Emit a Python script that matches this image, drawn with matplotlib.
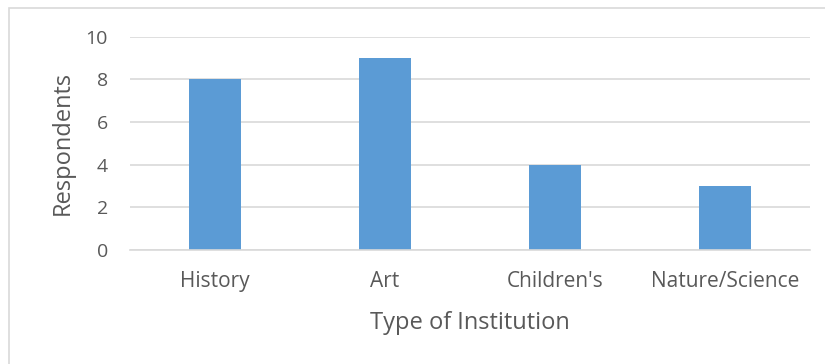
import matplotlib
matplotlib.use('Agg')
import matplotlib.pyplot as plt
from matplotlib.patches import Rectangle

categories = ['History', 'Art', "Children's", 'Nature/Science']
respondents = [8, 9, 4, 3]
yticks = [0, 2, 4, 6, 8, 10]

BAR = '#5B9BD5'
GRID = '#D9D9D9'
TEXT = '#595959'

plt.rcParams['font.family'] = ['Open Sans', 'DejaVu Sans']

fig = plt.figure(figsize=(8.25, 3.64), dpi=100)
# chart frame
fig.patches.append(Rectangle((9 / 825, -0.1), 1.0, 1.1 - 8 / 364, transform=fig.transFigure,
                             fill=False, edgecolor=GRID, linewidth=1.2))

ax = fig.add_axes([130 / 825, 1 - 250 / 364, 680 / 825, (250 - 36.7) / 364])
x = range(len(categories))
ax.bar(x, respondents, width=0.31, color=BAR, zorder=3)
ax.set_xlim(-0.5, len(categories) - 0.5)
ax.set_ylim(0, 10)
ax.set_yticks(yticks)
ax.set_xticks(list(x))
ax.set_xticklabels(categories)
ax.yaxis.grid(True, color=GRID, linewidth=1.2, zorder=0)
for s in ['top', 'right', 'left']:
    ax.spines[s].set_visible(False)
ax.spines['bottom'].set_color(GRID)
ax.spines['bottom'].set_linewidth(1.2)
ax.spines['bottom'].set_zorder(4)
ax.tick_params(length=0, colors=TEXT)
ax.tick_params(axis='x', pad=15, labelsize=15)
ax.tick_params(axis='y', pad=16, labelsize=14)
ax.set_ylabel('Respondents', fontsize=17, color=TEXT, labelpad=8)
ax.set_xlabel('Type of Institution', fontsize=17, color=TEXT, labelpad=14)

plt.savefig('out.png', dpi=100)
